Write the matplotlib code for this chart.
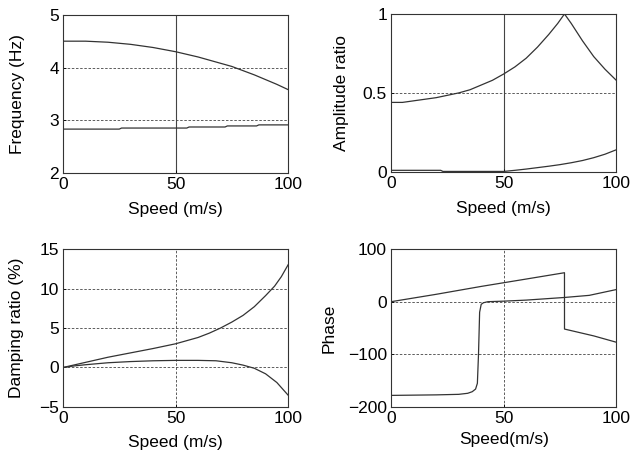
import numpy as np
import matplotlib
matplotlib.use('Agg')
import matplotlib.pyplot as plt

plt.rcParams['font.family'] = ['Liberation Sans', 'DejaVu Sans']
plt.rcParams['font.size'] = 12.5

# frequency (Hz)
freq_x = [0, 5, 10, 15, 20, 25, 30, 35, 40, 45, 50, 55, 60, 65, 70, 75, 80, 85, 90, 95, 100]
freq_hi = [4.5, 4.5, 4.5, 4.49, 4.48, 4.46, 4.44, 4.41, 4.38, 4.34, 4.3, 4.25, 4.2, 4.14, 4.08, 4.02, 3.94, 3.86, 3.77, 3.68, 3.58]
freq_lo_x = [0, 25, 26, 55, 56, 72, 73, 86, 87, 100]
freq_lo = [2.83, 2.83, 2.85, 2.85, 2.87, 2.87, 2.89, 2.89, 2.91, 2.91]

# amplitude ratio
amp_x = [0, 5, 10, 15, 20, 25, 30, 35, 40, 45, 50, 55, 60, 65, 70, 74, 77, 80, 85, 90, 95, 100]
amp_hi = [0.44, 0.44, 0.45, 0.46, 0.47, 0.485, 0.5, 0.52, 0.55, 0.58, 0.62, 0.665, 0.72, 0.79, 0.87, 0.94, 1.0, 0.94, 0.83, 0.73, 0.65, 0.58]
amp_lo_x = [0, 22, 23, 50, 55, 60, 65, 70, 75, 80, 85, 90, 95, 100]
amp_lo = [0.01, 0.01, 0.003, 0.003, 0.01, 0.018, 0.027, 0.036, 0.046, 0.058, 0.072, 0.09, 0.112, 0.14]

# damping ratio (%)
damp_x = [0, 10, 20, 30, 40, 50, 55, 60, 65, 70, 75, 80, 85, 90, 94, 97, 100]
damp_hi = [0, 0.65, 1.3, 1.85, 2.4, 3.0, 3.4, 3.8, 4.35, 5.0, 5.75, 6.6, 7.7, 9.1, 10.3, 11.5, 13.0]
damp_lo_x = [0, 5, 10, 20, 30, 40, 50, 60, 68, 75, 80, 85, 90, 95, 100]
damp_lo = [0, 0.2, 0.35, 0.6, 0.75, 0.85, 0.9, 0.9, 0.85, 0.6, 0.3, -0.1, -0.8, -1.9, -3.5]

# phase
ph1_x = [0, 20, 40, 50, 60, 77, 77.01, 90, 100]
ph1 = [0, 14, 29, 36, 43, 55, -52, -65, -77]
ph2_x = [0, 20, 30, 34, 36, 37.5, 38.3, 38.8, 39.3, 40, 41, 43, 50, 60, 77, 88, 100]
ph2 = [-178, -177, -176, -174, -171, -166, -155, -100, -20, -5, -2, 0, 1, 3, 8, 12, 23]

lc = '#333333'
fig = plt.figure(figsize=(6.34, 4.5), dpi=100)
W, H = 0.355, 0.351
axs = [[fig.add_axes([0.0994, 0.616, W, H]), fig.add_axes([0.617, 0.618, W, H])],
       [fig.add_axes([0.0994, 0.0956, W, H]), fig.add_axes([0.617, 0.0956, W, H])]]

def style(ax, xl, yl, ylim, yticks, grid_y, vsolid, ylx, xpad):
    ax.set_xlim(0, 100)
    ax.set_ylim(*ylim)
    ax.set_xticks([0, 50, 100])
    ax.set_yticks(yticks)
    ax.set_xlabel(xl, labelpad=xpad)
    ax.set_ylabel(yl)
    ax.yaxis.set_label_coords(ylx, 0.5)
    for g in grid_y:
        ax.axhline(g, color='#444444', ls=(0, (3, 2)), lw=0.6, zorder=1)
    if vsolid:
        ax.axvline(50, color='#444444', lw=0.8, zorder=1)
    else:
        ax.axvline(50, color='#444444', ls=(0, (3, 2)), lw=0.6, zorder=1)
    ax.tick_params(direction='in', length=2, width=0.6, pad=3)
    for s in ax.spines.values():
        s.set_linewidth(0.8)
        s.set_color('#333333')

ax = axs[0][0]
ax.plot(freq_x, freq_hi, color=lc, lw=0.9)
ax.plot(freq_lo_x, freq_lo, color=lc, lw=0.9)
style(ax, 'Speed (m/s)', 'Frequency (Hz)', (2, 5), [2, 3, 4, 5], [3, 4], True, -0.169, 7.5)

ax = axs[0][1]
ax.plot(amp_x, amp_hi, color=lc, lw=0.9)
ax.plot(amp_lo_x, amp_lo, color=lc, lw=0.9)
style(ax, 'Speed (m/s)', 'Amplitude ratio', (0, 1), [0, 0.5, 1], [0.5], True, -0.188, 7.5)
ax.set_yticklabels(['0', '0.5', '1'])

ax = axs[1][0]
ax.plot(damp_x, damp_hi, color=lc, lw=0.9)
ax.plot(damp_lo_x, damp_lo, color=lc, lw=0.9)
style(ax, 'Speed (m/s)', 'Damping ratio (%)', (-5, 15), [-5, 0, 5, 10, 15], [0, 5, 10], False, -0.173, 6.5)
ax.set_yticklabels(['\u22125', '0', '5', '10', '15'])

ax = axs[1][1]
ax.plot(ph1_x, ph1, color=lc, lw=0.9)
ax.plot(ph2_x, ph2, color=lc, lw=0.9)
style(ax, 'Speed(m/s)', 'Phase', (-200, 100), [-200, -100, 0, 100], [0, -100], False, -0.241, 4.5)
ax.set_yticklabels(['\u2212200', '\u2212100', '0', '100'])

plt.savefig('out.png', dpi=100)
